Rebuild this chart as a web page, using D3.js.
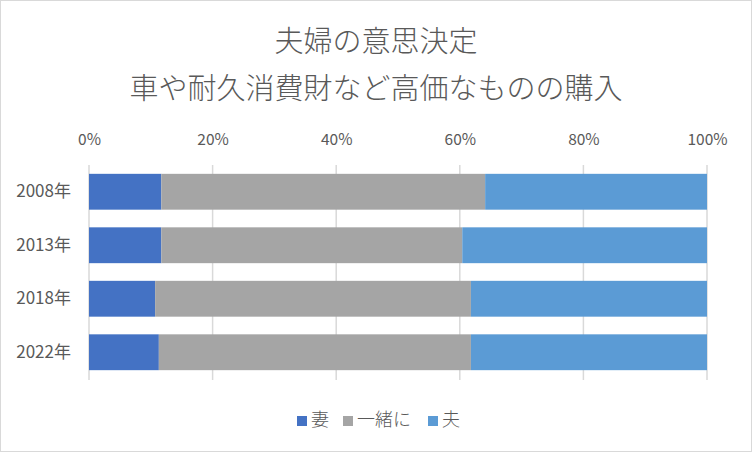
<!DOCTYPE html>
<html><head><meta charset="utf-8">
<script src="https://cdn.jsdelivr.net/npm/d3@7"></script>
<style>
body{margin:0;background:#fff;}
text{font-family:"Noto Sans CJK JP","Noto Sans",sans-serif;fill:#595959;}
</style></head><body>
<svg id="c" width="752" height="452"></svg>
<script>
const categories = ["2008年","2013年","2018年","2022年"];
const seriesNames = ["妻","一緒に","夫"];
const wife = [11.7, 11.7, 10.7, 11.3];
const together = [52.4, 48.7, 51.1, 50.5];
const husband = [35.9, 39.6, 38.2, 38.2];
const tickValues = [0, 0.2, 0.4, 0.6, 0.8, 1.0];
const colors = ["#4472C4","#A5A5A5","#5B9BD5"];
const titleLines = ["夫婦の意思決定","車や耐久消費財など高価なものの購入"];

const svg = d3.select("#c");
svg.append("rect").attr("x",0.5).attr("y",0.5).attr("width",751).attr("height",451)
  .attr("fill","#fff").attr("stroke","#d9d9d9");

const x = d3.scaleLinear().domain([0,1]).range([89,707]);
const y = d3.scaleBand().domain(categories).range([165,379]).paddingInner(0.33).paddingOuter(0.165);

// title
svg.selectAll(".title").data(titleLines).join("text")
  .attr("x",376).attr("y",(d,i)=>[52,99][i]).attr("text-anchor","middle")
  .attr("font-size",29).attr("font-weight",300).text(d=>d);

// gridlines
svg.append("g").selectAll("line").data(tickValues).join("line")
  .attr("x1",d=>x(d)).attr("x2",d=>x(d)).attr("y1",165).attr("y2",380)
  .attr("stroke","#d9d9d9").attr("stroke-width",1.5);

// top axis
const ax = svg.append("g").attr("transform","translate(0,148)")
  .call(d3.axisTop(x).tickValues(tickValues).tickFormat(d3.format(".0%")).tickSize(0));
ax.select(".domain").remove();
ax.selectAll("text").attr("font-size",15.5).attr("fill","#595959").style("font-family","\"Noto Sans CJK JP\",sans-serif");

// stacked data
const rows = categories.map((c,i)=>({cat:c, "妻":wife[i]/100, "一緒に":together[i]/100, "夫":husband[i]/100}));
const stack = d3.stack().keys(seriesNames)(rows);
svg.append("g").selectAll("g").data(stack).join("g").attr("fill",(d,i)=>colors[i])
  .selectAll("rect").data(d=>d).join("rect")
  .attr("x",d=>x(d[0])).attr("width",d=>x(d[1])-x(d[0]))
  .attr("y",d=>y(d.data.cat)).attr("height",y.bandwidth());

// y axis labels
const ay = svg.append("g").attr("transform","translate(71,0)")
  .call(d3.axisLeft(y).tickSize(0));
ay.select(".domain").remove();
ay.selectAll("text").attr("font-size",17).attr("fill","#595959").attr("x",0).style("font-family","\"Noto Sans CJK JP\",sans-serif");

// legend
const legX = [297, 343, 428];
const lg = svg.append("g");
seriesNames.forEach((n,i)=>{
  lg.append("rect").attr("x",legX[i]).attr("y",416).attr("width",10).attr("height",10).attr("fill",colors[i]);
  lg.append("text").attr("x",legX[i]+14).attr("y",426).attr("font-size",18).attr("font-weight",300).text(n);
});
</script></body></html>
